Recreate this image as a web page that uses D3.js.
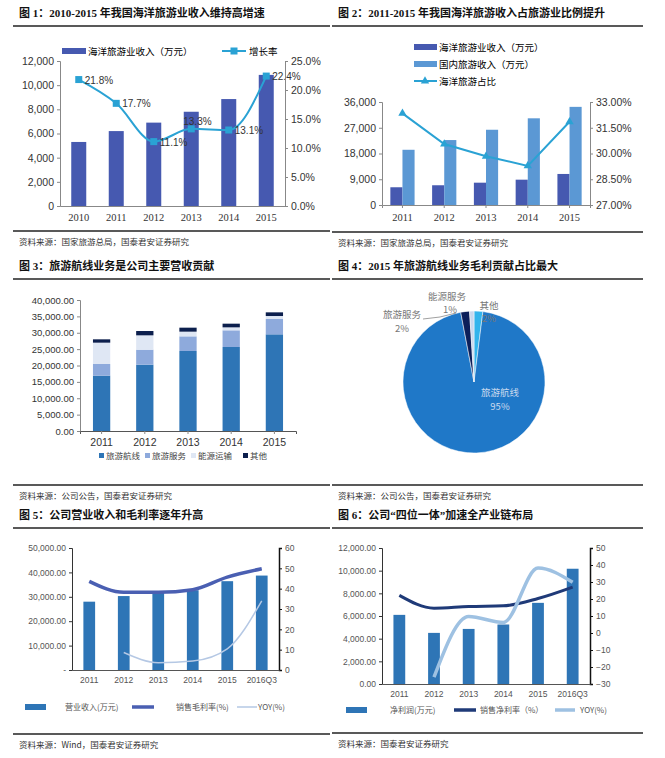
<!DOCTYPE html>
<html>
<head>
<meta charset="utf-8">
<script src="https://cdn.jsdelivr.net/npm/d3@7"></script>
<style>
  body { margin: 0; background: #fff; }
  text { font-family: "Liberation Sans", Arial, sans-serif; }
  .cjk { font-family: "Noto Sans CJK SC", sans-serif; }
  .title { font-family: "Liberation Serif", "Noto Sans CJK SC", serif; font-weight: bold; font-size: 11px; fill: #111; }
  .src { font-family: "Noto Sans CJK SC", sans-serif; font-size: 8.5px; fill: #333; }
</style>
</head>
<body>
<div id="chart"></div>
<script>
// panel 1
const years1 = ["2010", "2011", "2012", "2013", "2014", "2015"];
const marineIncome1 = [5300, 6200, 6900, 7800, 8850, 10850];
const growthRate1 = [21.8, 17.7, 11.1, 13.3, 13.1, 22.4];
const ticks1L = [0, 2000, 4000, 6000, 8000, 10000, 12000];
const ticks1R = [0, 5, 10, 15, 20, 25];

// panel 2
const years2 = ["2011", "2012", "2013", "2014", "2015"];
const marineIncome2 = [6200, 6900, 7800, 8850, 10850];
const domesticIncome2 = [19300, 22700, 26300, 30300, 34300];
const marineShare2 = [32.34, 30.55, 29.84, 29.28, 31.85];
const ticks2L = [0, 9000, 18000, 27000, 36000];
const ticks2R = [27, 28.5, 30, 31.5, 33];

// panel 3
const years3 = ["2011", "2012", "2013", "2014", "2015"];
const seg3 = ["旅游航线", "旅游服务", "能源运输", "其他"];
const route3 = [16900, 20250, 24430, 25650, 29520];
const service3 = [3560, 4580, 4470, 5090, 4680];
const energy3 = [6510, 4380, 1430, 910, 910];
const other3 = [1020, 1320, 1220, 1120, 1120];
const ticks3 = [0, 5000, 10000, 15000, 20000, 25000, 30000, 35000, 40000];

// panel 4
const pieNames4 = ["其他", "旅游航线", "旅游服务", "能源服务"];
const pieValues4 = [2, 95, 2, 1];

// panel 5
const years5 = ["2011", "2012", "2013", "2014", "2015", "2016Q3"];
const revenue5 = [28000, 30300, 31900, 32700, 36400, 38700];
const grossMargin5 = [43.6, 38.2, 38.2, 39.5, 45.7, 49.8];
const yoy5 = [null, 8.6, 3.6, 4.4, 10.4, 34];
const ticks5L = [0, 10000, 20000, 30000, 40000, 50000];
const ticks5R = [0, 10, 20, 30, 40, 50, 60];

// panel 6
const netProfit6 = [6100, 4510, 4860, 5250, 7160, 10170];
const netMargin6 = [22.1, 14.6, 15.6, 16, 20.3, 27];
const yoy6 = [null, -26, 9.7, 6.2, 38.2, 29.8];
const ticks6L = [0, 2000, 4000, 6000, 8000, 10000, 12000];
const ticks6R = [-30, -20, -10, 0, 10, 20, 30, 40, 50];

const svg = d3.select("#chart").append("svg").attr("width", 665).attr("height", 758);
const fmt2 = d3.format(",.2f");

function frame(x0, x1, ty, title, by, src) {
    svg.append("text").attr("class", "title").attr("x", x0 + 6).attr("y", ty).text(title);
    svg.append("line").attr("x1", x0).attr("x2", x1).attr("y1", ty + 9).attr("y2", ty + 9)
        .attr("stroke", "#222").attr("stroke-width", 1.5);
    svg.append("line").attr("x1", x0).attr("x2", x1).attr("y1", by).attr("y2", by)
        .attr("stroke", "#222").attr("stroke-width", 1.5);
    svg.append("text").attr("class", "src").attr("x", x0 + 6).attr("y", by + 14).text(src);
}

function axisStyle(g, size, color, family) {
    g.select(".domain").attr("stroke", color || "#888");
    g.selectAll(".tick line").attr("stroke", color || "#888");
    g.selectAll("text").attr("font-size", size).attr("fill", "#333")
        .style("font-family", family || "'Liberation Sans', Arial, sans-serif");
}

// ---------- panel 1
frame(13, 330, 17, "图 1：2010-2015 年我国海洋旅游业收入维持高增速", 231, "资料来源：国家旅游总局，国泰君安证券研究");
{
    const x = d3.scaleBand().domain(years1).range([60, 285]).paddingInner(0.6).paddingOuter(0.3);
    const y = d3.scaleLinear().domain([0, 12000]).range([206, 61]);
    const yr = d3.scaleLinear().domain([0, 25]).range([206, 61]);
    svg.selectAll(".b1").data(marineIncome1).enter().append("rect")
        .attr("x", (d, i) => x(years1[i])).attr("width", x.bandwidth())
        .attr("y", d => y(d)).attr("height", d => 206 - y(d)).attr("fill", "#4659b0");
    const line = d3.line().x((d, i) => x(years1[i]) + x.bandwidth() / 2).y(d => yr(d)).curve(d3.curveMonotoneX);
    svg.append("path").datum(growthRate1).attr("d", line).attr("fill", "none").attr("stroke", "#2aa2d4").attr("stroke-width", 2);
    svg.selectAll(".m1").data(growthRate1).enter().append("rect")
        .attr("x", (d, i) => x(years1[i]) + x.bandwidth() / 2 - 3.5).attr("y", d => yr(d) - 3.5)
        .attr("width", 7).attr("height", 7).attr("fill", "#2aa2d4");
    svg.selectAll(".l1").data(growthRate1).enter().append("text")
        .attr("x", (d, i) => x(years1[i]) + x.bandwidth() / 2 + (i === 3 ? -8 : 6))
        .attr("y", (d, i) => yr(d) + (i === 3 ? -4 : 4)).attr("font-size", 10).attr("fill", "#333")
        .text(d => d.toFixed(1) + "%");
    const gl = svg.append("g").attr("transform", "translate(60,0)")
        .call(d3.axisLeft(y).tickValues(ticks1L).tickSize(3));
    axisStyle(gl, 10.5);
    const gr = svg.append("g").attr("transform", "translate(285,0)")
        .call(d3.axisRight(yr).tickValues(ticks1R).tickSize(3).tickFormat(d => d.toFixed(1) + "%"));
    axisStyle(gr, 10.5);
    const gx = svg.append("g").attr("transform", "translate(0,206)")
        .call(d3.axisBottom(x).tickSize(0).tickPadding(8));
    axisStyle(gx, 10.5, "#888", "'Liberation Serif', serif");
    svg.append("rect").attr("x", 62).attr("y", 48).attr("width", 24).attr("height", 6).attr("fill", "#4659b0");
    svg.append("text").attr("class", "cjk").attr("x", 88).attr("y", 55).attr("font-size", 9.5).text("海洋旅游业收入（万元）");
    svg.append("line").attr("x1", 222).attr("x2", 246).attr("y1", 51).attr("y2", 51).attr("stroke", "#2aa2d4").attr("stroke-width", 2);
    svg.append("rect").attr("x", 230.5).attr("y", 47.5).attr("width", 7).attr("height", 7).attr("fill", "#2aa2d4");
    svg.append("text").attr("class", "cjk").attr("x", 249).attr("y", 55).attr("font-size", 9.5).text("增长率");
}

// ---------- panel 2
frame(332, 643, 17, "图 2：2011-2015 年我国海洋旅游收入占旅游业比例提升", 232, "资料来源：国家旅游总局，国泰君安证券研究");
{
    const x = d3.scaleBand().domain(years2).range([382, 590]).paddingInner(0.42).paddingOuter(0.2);
    const y = d3.scaleLinear().domain([0, 36000]).range([205, 102]);
    const yr = d3.scaleLinear().domain([27, 33]).range([205, 102]);
    const bw = x.bandwidth() / 2;
    svg.selectAll(".b2a").data(marineIncome2).enter().append("rect")
        .attr("x", (d, i) => x(years2[i])).attr("width", bw)
        .attr("y", d => y(d)).attr("height", d => 205 - y(d)).attr("fill", "#4659b0");
    svg.selectAll(".b2b").data(domesticIncome2).enter().append("rect")
        .attr("x", (d, i) => x(years2[i]) + bw).attr("width", bw)
        .attr("y", d => y(d)).attr("height", d => 205 - y(d)).attr("fill", "#5b98d4");
    const line = d3.line().x((d, i) => x(years2[i]) + bw).y(d => yr(d));
    svg.append("path").datum(marineShare2).attr("d", line).attr("fill", "none").attr("stroke", "#2aa2d4").attr("stroke-width", 2);
    const tri = d3.symbol().type(d3.symbolTriangle).size(30);
    svg.selectAll(".m2").data(marineShare2).enter().append("path").attr("d", tri)
        .attr("transform", (d, i) => `translate(${x(years2[i]) + bw},${yr(d)})`).attr("fill", "#2aa2d4");
    const gl = svg.append("g").attr("transform", "translate(382,0)")
        .call(d3.axisLeft(y).tickValues(ticks2L).tickSize(3).tickFormat(d3.format(",")));
    axisStyle(gl, 10.5);
    const gr = svg.append("g").attr("transform", "translate(590,0)")
        .call(d3.axisRight(yr).tickValues(ticks2R).tickSize(3).tickFormat(d => d.toFixed(2) + "%"));
    axisStyle(gr, 10.5);
    const gx = svg.append("g").attr("transform", "translate(0,205)")
        .call(d3.axisBottom(x).tickSize(3).tickPadding(6));
    axisStyle(gx, 10.5, "#888", "'Liberation Serif', serif");
    const leg = [["海洋旅游业收入（万元）", "#4659b0", "bar"], ["国内旅游收入（万元）", "#5b98d4", "bar"], ["海洋旅游占比", "#2aa2d4", "line"]];
    leg.forEach((l, i) => {
        const ly = 47 + i * 17;
        if (l[2] === "bar") {
            svg.append("rect").attr("x", 414).attr("y", ly - 3).attr("width", 23).attr("height", 6).attr("fill", l[1]);
        } else {
            svg.append("line").attr("x1", 414).attr("x2", 437).attr("y1", ly).attr("y2", ly).attr("stroke", l[1]).attr("stroke-width", 2);
            svg.append("path").attr("d", tri).attr("transform", `translate(425,${ly})`).attr("fill", l[1]);
        }
        svg.append("text").attr("class", "cjk").attr("x", 439).attr("y", ly + 4).attr("font-size", 9.5).text(l[0]);
    });
}

// ---------- panel 3
frame(13, 330, 270, "图 3：旅游航线业务是公司主要营收贡献", 485, "资料来源：公司公告，国泰君安证券研究");
{
    const colors = ["#2e75b6", "#8eaadc", "#dfe7f4", "#0c1f4d"];
    const rows = years3.map((yr, i) => ({ year: yr, "旅游航线": route3[i], "旅游服务": service3[i], "能源运输": energy3[i], "其他": other3[i] }));
    const stack = d3.stack().keys(seg3)(rows);
    const x = d3.scaleBand().domain(years3).range([80, 296]).paddingInner(0.6).paddingOuter(0.3);
    const y = d3.scaleLinear().domain([0, 40000]).range([431, 300]);
    stack.forEach((s, k) => {
        svg.selectAll(".s3" + k).data(s).enter().append("rect")
            .attr("x", d => x(d.data.year)).attr("width", x.bandwidth())
            .attr("y", d => y(d[1])).attr("height", d => y(d[0]) - y(d[1])).attr("fill", colors[k]);
    });
    const gl = svg.append("g").attr("transform", "translate(80,0)")
        .call(d3.axisLeft(y).tickValues(ticks3).tickSize(3).tickFormat(fmt2));
    axisStyle(gl, 9.5);
    const gx = svg.append("g").attr("transform", "translate(0,431)")
        .call(d3.axisBottom(x).tickSize(3).tickPadding(5));
    axisStyle(gx, 10.5);
    gx.select(".domain").attr("stroke", "#555");
    let lx = 99;
    seg3.forEach((n, k) => {
        svg.append("rect").attr("x", lx).attr("y", 453).attr("width", 5).attr("height", 5).attr("fill", colors[k]);
        svg.append("text").attr("class", "cjk").attr("x", lx + 7).attr("y", 459).attr("font-size", 8.5).attr("fill", "#444").text(n);
        lx += k === 2 ? 52 : 46;
    });
}

// ---------- panel 4
frame(332, 643, 270, "图 4：2015 年旅游航线业务毛利贡献占比最大", 485, "资料来源：公司公告，国泰君安证券研究");
{
    const colors = ["#33b4ec", "#1f78c8", "#0c1f5a", "#c9d8ee"];
    const pie = d3.pie().sort(null).value(d => d)(pieValues4);
    const arc = d3.arc().innerRadius(0).outerRadius(71);
    const g = svg.append("g").attr("transform", "translate(474,382)");
    g.selectAll("path").data(pie).enter().append("path").attr("d", arc)
        .attr("fill", (d, i) => colors[i]).attr("stroke", "#fff").attr("stroke-width", 0.5);
    const lab = [[489, 309, 489, 322], [500, 396, 500, 410], [402, 318, 402, 332], [447, 300, 450, 313]];
    pie.forEach((d, i) => {
        const t = svg.append("text").attr("class", "cjk").attr("text-anchor", "middle").attr("font-size", 9.5)
            .attr("fill", i === 1 ? "#c9d8ee" : "#777");
        t.append("tspan").attr("x", lab[i][0]).attr("y", lab[i][1]).text(pieNames4[i]);
        t.append("tspan").attr("x", lab[i][2]).attr("y", lab[i][3]).text(pieValues4[i] + "%");
    });
    svg.append("polyline").attr("points", "423,319 440,317 456,313").attr("fill", "none").attr("stroke", "#777").attr("stroke-width", 0.7);
}

// ---------- panels 5 & 6 helper
function combo(opt) {
    const x = d3.scaleBand().domain(years5).range([opt.x0, opt.x1]).paddingInner(0.66).paddingOuter(0.33);
    const y = d3.scaleLinear().domain(opt.yDom).range([opt.yb, opt.yt]);
    const yr = d3.scaleLinear().domain(opt.rDom).range([opt.yb, opt.yt]);
    svg.selectAll(".b" + opt.id).data(opt.bars).enter().append("rect")
        .attr("x", (d, i) => x(years5[i])).attr("width", x.bandwidth())
        .attr("y", d => y(d)).attr("height", d => opt.yb - y(d)).attr("fill", "#2e75b6");
    const cx = i => x(years5[i]) + x.bandwidth() / 2;
    const line = d3.line().defined(d => d !== null).x((d, i) => cx(i)).y(d => yr(d)).curve(d3.curveMonotoneX);
    svg.append("path").datum(opt.main).attr("d", line).attr("fill", "none").attr("stroke", opt.mainColor).attr("stroke-width", opt.mainW);
    svg.append("path").datum(opt.yoy).attr("d", line).attr("fill", "none").attr("stroke", opt.yoyColor).attr("stroke-width", opt.yoyW);
    const gl = svg.append("g").attr("transform", `translate(${opt.x0},0)`)
        .call(d3.axisLeft(y).tickValues(opt.ticksL).tickSize(3).tickFormat(opt.fmtL));
    axisStyle(gl, 8.5, "#333");
    gl.selectAll("text").attr("fill", "#555");
    const gr = svg.append("g").attr("transform", `translate(${opt.x1},0)`)
        .call(d3.axisRight(yr).tickValues(opt.ticksR).tickSize(3));
    axisStyle(gr, 8.5, "#111");
    gr.select(".domain").attr("stroke-width", 1.5);
    gr.selectAll("text").attr("fill", "#555");
    const gx = svg.append("g").attr("transform", `translate(0,${opt.yb})`)
        .call(d3.axisBottom(x).tickSize(0).tickPadding(7));
    axisStyle(gx, 8.5, "#555");
    gx.selectAll("text").attr("fill", "#555");
    const ly = opt.ly;
    svg.append("rect").attr("x", opt.lx[0]).attr("y", ly - 3).attr("width", 21).attr("height", 6).attr("fill", "#2e75b6");
    svg.append("text").attr("class", "cjk").attr("x", opt.lx[1]).attr("y", ly + 3).attr("font-size", 8).attr("fill", "#555").text(opt.names[0]);
    svg.append("line").attr("x1", opt.lx[2]).attr("x2", opt.lx[2] + 22).attr("y1", ly).attr("y2", ly).attr("stroke", opt.mainColor).attr("stroke-width", 3.5);
    svg.append("text").attr("class", "cjk").attr("x", opt.lx[3]).attr("y", ly + 3).attr("font-size", 8).attr("fill", "#555").text(opt.names[1]);
    svg.append("line").attr("x1", opt.lx[4]).attr("x2", opt.lx[4] + 20).attr("y1", ly).attr("y2", ly).attr("stroke", opt.yoyColor).attr("stroke-width", opt.yoyW);
    svg.append("text").attr("class", "cjk").attr("x", opt.lx[5]).attr("y", ly + 3).attr("font-size", 8).attr("fill", "#555").text("YOY(%)");
}

frame(13, 330, 519, "图 5：公司营业收入和毛利率逐年升高", 734, "资料来源：Wind，国泰君安证券研究");
combo({
    id: 5, x0: 72, x1: 279, yt: 548, yb: 670, yDom: [0, 50000], rDom: [0, 60],
    bars: revenue5, main: grossMargin5, yoy: yoy5,
    mainColor: "#4a5fb2", mainW: 3.5, yoyColor: "#b5c8e4", yoyW: 1.5,
    ticksL: ticks5L, ticksR: ticks5R, fmtL: d => d === 0 ? "-" : fmt2(d),
    ly: 707, lx: [25, 65, 132, 176, 237, 258], names: ["营业收入(万元)", "销售毛利率(%)"]
});

frame(332, 643, 519, "图 6：公司“四位一体”加速全产业链布局", 733, "资料来源：国泰君安证券研究");
combo({
    id: 6, x0: 382, x1: 590, yt: 548, yb: 684, yDom: [0, 12000], rDom: [-30, 50],
    bars: netProfit6, main: netMargin6, yoy: yoy6,
    mainColor: "#1f3a78", mainW: 3, yoyColor: "#9ec1e2", yoyW: 3.5,
    ticksL: ticks6L, ticksR: ticks6R, fmtL: fmt2,
    ly: 710, lx: [346, 390, 454, 480, 555, 580], names: ["净利润(万元)", "销售净利率（%）"]
});
</script>
</body>
</html>
